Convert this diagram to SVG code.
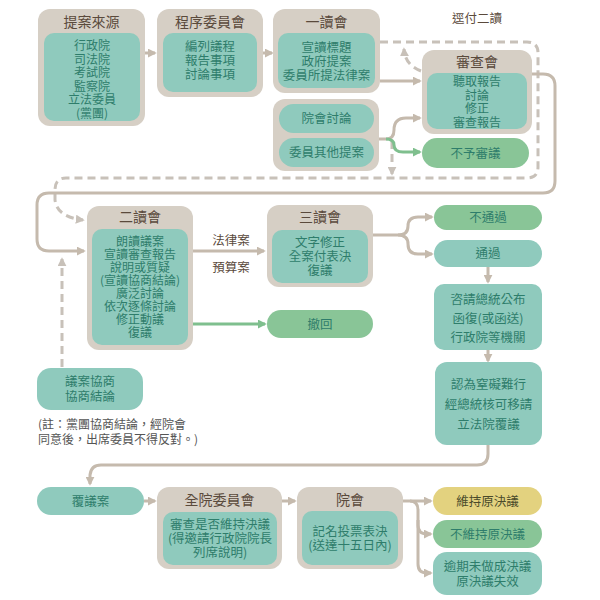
<svg xmlns="http://www.w3.org/2000/svg" width="600" height="600" viewBox="0 0 600 600">
<style>
text{font-family:"Noto Sans CJK TC","Noto Sans CJK SC",sans-serif;text-anchor:middle}
.outer{fill:#d6cfc5}
.inner{fill:#8fcabd}
.green{fill:#89c597}
.yellow{fill:#e3d27f}
.t{font-size:14px;fill:#5a4a3c}
.s{font-size:12.5px;fill:#2e7d6b}
.c{font-size:12px}
.n{font-size:12px;fill:#555;text-anchor:start}
.ln{fill:none;stroke:#c5baad;stroke-width:3}
.gl{fill:none;stroke:#7fbf8e;stroke-width:3}
.ds{fill:none;stroke:#c8c1b9;stroke-width:3;stroke-dasharray:8 5}
</style>
<defs>
<marker id="a" viewBox="0 0 10 10" refX="8" refY="5" markerWidth="3" markerHeight="3" orient="auto"><path d="M0,0 L10,5 L0,10 z" fill="#c5baad"/></marker>
<marker id="g" viewBox="0 0 10 10" refX="8" refY="5" markerWidth="3" markerHeight="3" orient="auto"><path d="M0,0 L10,5 L0,10 z" fill="#7fbf8e"/></marker>
<marker id="d" viewBox="0 0 10 10" refX="8" refY="5" markerWidth="3" markerHeight="3" orient="auto"><path d="M0,0 L10,5 L0,10 z" fill="#c8c1b9"/></marker>
</defs>

<g id="connectors">
<path class="ln" d="M145,53 H155" marker-end="url(#a)"/>
<path class="ln" d="M262,53 H272" marker-end="url(#a)"/>
<path class="ln" d="M380,81 H420" marker-end="url(#a)"/>
<path class="ds" d="M380,42 H527 Q538,42 538,53 V167 Q538,178 527,178 H66 Q55,178 55,190 V200 Q57,217 83,220" marker-end="url(#d)"/>
<path class="ds" d="M421,71 Q405,65 404,49" marker-end="url(#d)"/>
<path class="ds" d="M392,141 V174" marker-end="url(#d)"/>
<path class="ln" d="M379,139 H386 Q394,139 394,130 Q394,118 406,118 H420" marker-end="url(#a)"/>
<path class="gl" d="M386,139 Q394,139 394,145 Q394,152 403,152 H420" marker-end="url(#g)"/>
<path class="ln" d="M532,74 H543 Q555,74 555,86 V181 Q555,193 543,193 H49 Q37,193 37,205 V239 Q37,251 49,251 H84" marker-end="url(#a)"/>
<path class="ds" d="M62,367 V259" marker-end="url(#d)"/>
<path class="ln" d="M193,251 H264" marker-end="url(#a)"/>
<path class="gl" d="M193,324 H265" marker-end="url(#g)"/>
<path class="ln" d="M373,235 H398 Q408,235 408,226 Q408,217 418,217 H432" marker-end="url(#a)"/>
<path class="ln" d="M398,235 Q408,235 408,244 Q408,254 418,254 H432" marker-end="url(#a)"/>
<path class="ln" d="M488,267 V282" marker-end="url(#a)"/>
<path class="ln" d="M488,350 V361" marker-end="url(#a)"/>
<path class="ln" d="M488,445 V454 Q488,465 477,465 H101 Q91,465 90,475 V484" marker-end="url(#a)"/>
<path class="ln" d="M144,501 H155" marker-end="url(#a)"/>
<path class="ln" d="M282,501 H295" marker-end="url(#a)"/>
<path class="ln" d="M403,501 H431" marker-end="url(#a)"/>
<path class="ln" d="M410,501 Q418,501 418,510 V525 Q418,534 427,534 H431" marker-end="url(#a)"/>
<path class="ln" d="M418,520 V564 Q418,573 427,573 H431" marker-end="url(#a)"/>
</g>

<g id="n-source">
<rect class="outer" x="38" y="9" width="107" height="117" rx="12"/>
<text class="t" x="91.5" y="27">提案來源</text>
<rect class="inner" x="44" y="33" width="96" height="88" rx="10"/>
<text class="s c" x="92" y="50">行政院</text>
<text class="s c" x="92" y="63.5">司法院</text>
<text class="s c" x="92" y="77">考試院</text>
<text class="s c" x="92" y="90.5">監察院</text>
<text class="s c" x="92" y="104">立法委員</text>
<text class="s c" x="92" y="117.5">(黨團)</text>
</g>

<g id="n-procedure">
<rect class="outer" x="157" y="9" width="106" height="88" rx="12"/>
<text class="t" x="210" y="27">程序委員會</text>
<rect class="inner" x="163" y="33" width="94" height="59" rx="10"/>
<text class="s" x="210" y="51">編列議程</text>
<text class="s" x="210" y="65">報告事項</text>
<text class="s" x="210" y="79">討論事項</text>
</g>

<g id="n-first">
<rect class="outer" x="273" y="9" width="107" height="84" rx="12"/>
<text class="t" x="326.5" y="27">一讀會</text>
<rect class="inner" x="278" y="33" width="97" height="55" rx="10"/>
<text class="s" x="326.5" y="52">宣讀標題</text>
<text class="s" x="326.5" y="66">政府提案</text>
<text class="s" x="326.5" y="80">委員所提法律案</text>
</g>

<text id="l-direct" class="t" x="477" y="23" style="font-size:12.5px">逕付二讀</text>

<g id="n-review">
<rect class="outer" x="422" y="50" width="110" height="84" rx="12"/>
<text class="t" x="477" y="67">審查會</text>
<rect class="inner" x="427" y="73" width="100" height="56" rx="10"/>
<text class="s c" x="477" y="86">聽取報告</text>
<text class="s c" x="477" y="99.5">討論</text>
<text class="s c" x="477" y="113">修正</text>
<text class="s c" x="477" y="126.5">審查報告</text>
</g>

<g id="n-other">
<rect class="outer" x="273" y="99" width="106" height="72" rx="12"/>
<rect class="inner" x="279" y="104" width="95" height="29" rx="14.5"/>
<text class="s" x="326.5" y="123">院會討論</text>
<rect class="inner" x="279" y="138" width="95" height="29" rx="14.5"/>
<text class="s" x="326.5" y="157">委員其他提案</text>
</g>

<g id="n-noreview">
<rect class="green" x="422" y="138" width="107" height="30" rx="15"/>
<text class="s" x="475.5" y="157.5">不予審議</text>
</g>

<g id="n-second">
<rect class="outer" x="87" y="206" width="106" height="144" rx="12"/>
<text class="t" x="140" y="222">二讀會</text>
<rect class="inner" x="92" y="229" width="96" height="116" rx="10"/>
<text class="s c" x="140" y="246">朗讀議案</text>
<text class="s c" x="140" y="259">宣讀審查報告</text>
<text class="s c" x="140" y="272">說明或質疑</text>
<text class="s c" x="140" y="285">(宣讀協商結論)</text>
<text class="s c" x="140" y="298">廣泛討論</text>
<text class="s c" x="140" y="311">依次逐條討論</text>
<text class="s c" x="140" y="324">修正動議</text>
<text class="s c" x="140" y="337">復議</text>
</g>

<text class="t" x="231" y="245" style="font-size:12.5px">法律案</text>
<text class="t" x="231" y="272" style="font-size:12.5px">預算案</text>

<g id="n-third">
<rect class="outer" x="267" y="205" width="106" height="82" rx="12"/>
<text class="t" x="320" y="222">三讀會</text>
<rect class="inner" x="272" y="230" width="96" height="53" rx="10"/>
<text class="s" x="320" y="247">文字修正</text>
<text class="s" x="320" y="261">全案付表決</text>
<text class="s" x="320" y="275">復議</text>
</g>

<g id="n-fail">
<rect class="green" x="434" y="205" width="108" height="25" rx="12.5"/>
<text class="s" x="488" y="222">不通過</text>
</g>

<g id="n-pass">
<rect class="inner" x="434" y="240" width="108" height="27" rx="13.5"/>
<text class="s" x="488" y="258">通過</text>
</g>

<g id="n-withdraw">
<rect class="green" x="267" y="310" width="106" height="28" rx="14"/>
<text class="s" x="320" y="328.5">撤回</text>
</g>

<g id="n-promulgate">
<rect class="inner" x="434" y="284" width="108" height="66" rx="10"/>
<text class="s" x="488" y="304">咨請總統公布</text>
<text class="s" x="488" y="323">函復(或函送)</text>
<text class="s" x="488" y="342">行政院等機關</text>
</g>

<g id="n-negotiation">
<rect class="inner" x="37" y="368" width="106" height="42" rx="14"/>
<text class="s" x="90" y="386">議案協商</text>
<text class="s" x="90" y="401">協商結論</text>
</g>
<text class="n" x="38" y="429">(註：黨團協商結論，經院會</text>
<text class="n" x="38" y="444">同意後，出席委員不得反對。)</text>

<g id="n-reconsider-req">
<rect class="inner" x="435" y="362" width="107" height="83" rx="12"/>
<text class="s" x="488.5" y="389">認為窒礙難行</text>
<text class="s" x="488.5" y="409">經總統核可移請</text>
<text class="s" x="488.5" y="429">立法院覆議</text>
</g>

<g id="n-reconsider">
<rect class="inner" x="37" y="487" width="107" height="28" rx="14"/>
<text class="s" x="90.5" y="505.5">覆議案</text>
</g>

<g id="n-whole">
<rect class="outer" x="157" y="487" width="125" height="82" rx="12"/>
<text class="t" x="219.5" y="505">全院委員會</text>
<rect class="inner" x="163" y="512" width="114" height="53" rx="10"/>
<text class="s" x="220" y="529">審查是否維持決議</text>
<text class="s" x="220" y="543">(得邀請行政院院長</text>
<text class="s" x="220" y="557">列席說明)</text>
</g>

<g id="n-plenary">
<rect class="outer" x="297" y="487" width="106" height="82" rx="12"/>
<text class="t" x="350" y="505">院會</text>
<rect class="inner" x="302" y="511" width="96" height="54" rx="10"/>
<text class="s" x="350" y="536">記名投票表決</text>
<text class="s" x="350" y="550">(送達十五日內)</text>
</g>

<g id="n-keep">
<rect class="yellow" x="433" y="487" width="109" height="28" rx="14"/>
<text class="s" x="487.5" y="505.5" style="fill:#4a4a2a">維持原決議</text>
</g>

<g id="n-notkeep">
<rect class="green" x="433" y="520" width="109" height="28" rx="14"/>
<text class="s" x="487.5" y="538.5">不維持原決議</text>
</g>

<g id="n-expire">
<rect class="inner" x="433" y="552" width="109" height="43" rx="14"/>
<text class="s" x="487.5" y="571">逾期未做成決議</text>
<text class="s" x="487.5" y="586">原決議失效</text>
</g>
</svg>
